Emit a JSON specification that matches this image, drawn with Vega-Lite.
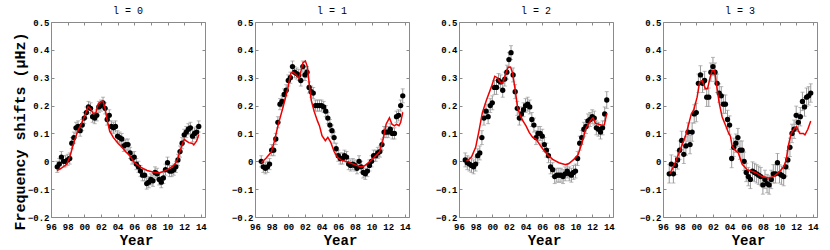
{
"$schema": "https://vega.github.io/schema/vega-lite/v6.json",
"background": "white",
"padding": {"left": 11, "top": 5, "right": 0, "bottom": 0},
"spacing": 23,
"datasets": {
"p0": [{"t":1996.75,"v":-0.02,"e":0.02},{"t":1997,"v":-0.01,"e":0.02},{"t":1997.25,"v":0.015,"e":0.02},{"t":1997.5,"v":0.0,"e":0.02},{"t":1997.75,"v":0.0,"e":0.02},{"t":1998,"v":0.005,"e":0.02},{"t":1998.25,"v":0.01,"e":0.02},{"t":1998.5,"v":0.065,"e":0.02},{"t":1998.75,"v":0.085,"e":0.02},{"t":1999,"v":0.12,"e":0.02},{"t":1999.25,"v":0.125,"e":0.02},{"t":1999.5,"v":0.11,"e":0.02},{"t":1999.75,"v":0.13,"e":0.02},{"t":2000,"v":0.155,"e":0.02},{"t":2000.25,"v":0.175,"e":0.02},{"t":2000.5,"v":0.195,"e":0.02},{"t":2000.75,"v":0.19,"e":0.02},{"t":2001,"v":0.16,"e":0.02},{"t":2001.25,"v":0.155,"e":0.02},{"t":2001.5,"v":0.165,"e":0.02},{"t":2001.75,"v":0.195,"e":0.02},{"t":2002,"v":0.2,"e":0.02},{"t":2002.25,"v":0.21,"e":0.02},{"t":2002.5,"v":0.19,"e":0.02},{"t":2002.75,"v":0.15,"e":0.02},{"t":2003,"v":0.165,"e":0.02},{"t":2003.25,"v":0.125,"e":0.02},{"t":2003.5,"v":0.12,"e":0.02},{"t":2003.75,"v":0.125,"e":0.02},{"t":2004,"v":0.09,"e":0.02},{"t":2004.25,"v":0.085,"e":0.02},{"t":2004.5,"v":0.08,"e":0.02},{"t":2004.75,"v":0.055,"e":0.02},{"t":2005,"v":0.06,"e":0.02},{"t":2005.25,"v":0.06,"e":0.02},{"t":2005.5,"v":0.03,"e":0.02},{"t":2005.75,"v":0.01,"e":0.02},{"t":2006,"v":0.015,"e":0.02},{"t":2006.25,"v":-0.01,"e":0.02},{"t":2006.5,"v":-0.02,"e":0.02},{"t":2006.75,"v":-0.035,"e":0.02},{"t":2007,"v":-0.05,"e":0.02},{"t":2007.25,"v":-0.05,"e":0.02},{"t":2007.5,"v":-0.08,"e":0.02},{"t":2007.75,"v":-0.075,"e":0.02},{"t":2008,"v":-0.065,"e":0.02},{"t":2008.25,"v":-0.07,"e":0.02},{"t":2008.5,"v":-0.04,"e":0.02},{"t":2008.75,"v":-0.045,"e":0.02},{"t":2009,"v":-0.065,"e":0.02},{"t":2009.25,"v":-0.075,"e":0.02},{"t":2009.5,"v":-0.06,"e":0.02},{"t":2009.75,"v":-0.03,"e":0.02},{"t":2010,"v":-0.005,"e":0.02},{"t":2010.25,"v":-0.035,"e":0.02},{"t":2010.5,"v":-0.035,"e":0.02},{"t":2010.75,"v":-0.03,"e":0.02},{"t":2011,"v":-0.02,"e":0.02},{"t":2011.25,"v":0.005,"e":0.02},{"t":2011.5,"v":0.035,"e":0.02},{"t":2011.75,"v":0.065,"e":0.02},{"t":2012,"v":0.095,"e":0.02},{"t":2012.25,"v":0.105,"e":0.02},{"t":2012.5,"v":0.115,"e":0.02},{"t":2012.75,"v":0.12,"e":0.02},{"t":2013,"v":0.09,"e":0.02},{"t":2013.25,"v":0.1,"e":0.02},{"t":2013.5,"v":0.105,"e":0.02},{"t":2013.75,"v":0.125,"e":0.02}],
"p1": [{"t":1996.75,"v":0.0,"e":0.02},{"t":1997,"v":-0.02,"e":0.02},{"t":1997.25,"v":-0.025,"e":0.02},{"t":1997.5,"v":-0.02,"e":0.02},{"t":1997.75,"v":-0.01,"e":0.02},{"t":1998,"v":0.04,"e":0.02},{"t":1998.25,"v":0.04,"e":0.02},{"t":1998.5,"v":0.08,"e":0.02},{"t":1998.75,"v":0.14,"e":0.02},{"t":1999,"v":0.205,"e":0.02},{"t":1999.25,"v":0.215,"e":0.02},{"t":1999.5,"v":0.24,"e":0.02},{"t":1999.75,"v":0.255,"e":0.02},{"t":2000,"v":0.29,"e":0.02},{"t":2000.25,"v":0.3,"e":0.02},{"t":2000.5,"v":0.34,"e":0.02},{"t":2000.75,"v":0.32,"e":0.02},{"t":2001,"v":0.315,"e":0.02},{"t":2001.25,"v":0.31,"e":0.02},{"t":2001.5,"v":0.29,"e":0.02},{"t":2001.75,"v":0.34,"e":0.02},{"t":2002,"v":0.31,"e":0.02},{"t":2002.25,"v":0.32,"e":0.02},{"t":2002.5,"v":0.265,"e":0.02},{"t":2002.75,"v":0.25,"e":0.02},{"t":2003,"v":0.245,"e":0.02},{"t":2003.25,"v":0.2,"e":0.02},{"t":2003.5,"v":0.2,"e":0.02},{"t":2003.75,"v":0.2,"e":0.02},{"t":2004,"v":0.2,"e":0.02},{"t":2004.25,"v":0.195,"e":0.02},{"t":2004.5,"v":0.18,"e":0.02},{"t":2004.75,"v":0.155,"e":0.02},{"t":2005,"v":0.13,"e":0.02},{"t":2005.25,"v":0.11,"e":0.02},{"t":2005.5,"v":0.085,"e":0.02},{"t":2005.75,"v":0.045,"e":0.02},{"t":2006,"v":0.02,"e":0.02},{"t":2006.25,"v":0.01,"e":0.02},{"t":2006.5,"v":0.01,"e":0.02},{"t":2006.75,"v":0.02,"e":0.02},{"t":2007,"v":0.015,"e":0.02},{"t":2007.25,"v":-0.01,"e":0.02},{"t":2007.5,"v":-0.015,"e":0.02},{"t":2007.75,"v":-0.01,"e":0.02},{"t":2008,"v":-0.015,"e":0.02},{"t":2008.25,"v":-0.025,"e":0.02},{"t":2008.5,"v":0.0,"e":0.02},{"t":2008.75,"v":-0.02,"e":0.02},{"t":2009,"v":-0.04,"e":0.02},{"t":2009.25,"v":-0.045,"e":0.02},{"t":2009.5,"v":-0.035,"e":0.02},{"t":2009.75,"v":-0.015,"e":0.02},{"t":2010,"v":0.0,"e":0.02},{"t":2010.25,"v":0.02,"e":0.02},{"t":2010.5,"v":0.02,"e":0.02},{"t":2010.75,"v":0.03,"e":0.02},{"t":2011,"v":0.035,"e":0.02},{"t":2011.25,"v":0.06,"e":0.02},{"t":2011.5,"v":0.105,"e":0.02},{"t":2011.75,"v":0.105,"e":0.02},{"t":2012,"v":0.105,"e":0.02},{"t":2012.25,"v":0.115,"e":0.02},{"t":2012.5,"v":0.1,"e":0.02},{"t":2012.75,"v":0.1,"e":0.02},{"t":2013,"v":0.16,"e":0.02},{"t":2013.25,"v":0.165,"e":0.02},{"t":2013.5,"v":0.2,"e":0.02},{"t":2013.75,"v":0.235,"e":0.025}],
"p2": [{"t":1996.75,"v":0.005,"e":0.025},{"t":1997,"v":-0.005,"e":0.025},{"t":1997.25,"v":-0.01,"e":0.025},{"t":1997.5,"v":-0.015,"e":0.025},{"t":1997.75,"v":-0.02,"e":0.025},{"t":1998,"v":-0.01,"e":0.025},{"t":1998.25,"v":0.02,"e":0.025},{"t":1998.5,"v":0.03,"e":0.025},{"t":1998.75,"v":0.085,"e":0.025},{"t":1999,"v":0.155,"e":0.025},{"t":1999.25,"v":0.18,"e":0.025},{"t":1999.5,"v":0.16,"e":0.025},{"t":1999.75,"v":0.2,"e":0.025},{"t":2000,"v":0.21,"e":0.025},{"t":2000.25,"v":0.265,"e":0.025},{"t":2000.5,"v":0.265,"e":0.025},{"t":2000.75,"v":0.29,"e":0.025},{"t":2001,"v":0.285,"e":0.025},{"t":2001.25,"v":0.255,"e":0.025},{"t":2001.5,"v":0.295,"e":0.025},{"t":2001.75,"v":0.32,"e":0.025},{"t":2002,"v":0.365,"e":0.025},{"t":2002.25,"v":0.39,"e":0.025},{"t":2002.5,"v":0.31,"e":0.025},{"t":2002.75,"v":0.25,"e":0.025},{"t":2003,"v":0.19,"e":0.025},{"t":2003.25,"v":0.155,"e":0.025},{"t":2003.5,"v":0.17,"e":0.025},{"t":2003.75,"v":0.185,"e":0.025},{"t":2004,"v":0.2,"e":0.025},{"t":2004.25,"v":0.205,"e":0.025},{"t":2004.5,"v":0.195,"e":0.025},{"t":2004.75,"v":0.15,"e":0.025},{"t":2005,"v":0.13,"e":0.025},{"t":2005.25,"v":0.085,"e":0.025},{"t":2005.5,"v":0.1,"e":0.025},{"t":2005.75,"v":0.1,"e":0.025},{"t":2006,"v":0.09,"e":0.025},{"t":2006.25,"v":0.06,"e":0.025},{"t":2006.5,"v":0.04,"e":0.025},{"t":2006.75,"v":0.02,"e":0.025},{"t":2007,"v":-0.02,"e":0.025},{"t":2007.25,"v":-0.03,"e":0.025},{"t":2007.5,"v":-0.055,"e":0.025},{"t":2007.75,"v":-0.05,"e":0.025},{"t":2008,"v":-0.05,"e":0.025},{"t":2008.25,"v":-0.05,"e":0.025},{"t":2008.5,"v":-0.055,"e":0.025},{"t":2008.75,"v":-0.045,"e":0.025},{"t":2009,"v":-0.035,"e":0.025},{"t":2009.25,"v":-0.045,"e":0.025},{"t":2009.5,"v":-0.05,"e":0.025},{"t":2009.75,"v":-0.04,"e":0.025},{"t":2010,"v":-0.035,"e":0.025},{"t":2010.25,"v":0.01,"e":0.025},{"t":2010.5,"v":0.065,"e":0.025},{"t":2010.75,"v":0.085,"e":0.025},{"t":2011,"v":0.115,"e":0.025},{"t":2011.25,"v":0.125,"e":0.025},{"t":2011.5,"v":0.145,"e":0.025},{"t":2011.75,"v":0.15,"e":0.025},{"t":2012,"v":0.16,"e":0.025},{"t":2012.25,"v":0.155,"e":0.025},{"t":2012.5,"v":0.12,"e":0.025},{"t":2012.75,"v":0.115,"e":0.025},{"t":2013,"v":0.105,"e":0.025},{"t":2013.25,"v":0.12,"e":0.025},{"t":2013.5,"v":0.17,"e":0.025},{"t":2013.75,"v":0.22,"e":0.03}],
"p3": [{"t":1996.75,"v":-0.045,"e":0.033},{"t":1997,"v":-0.01,"e":0.033},{"t":1997.25,"v":-0.045,"e":0.033},{"t":1997.5,"v":-0.015,"e":0.033},{"t":1997.75,"v":0.005,"e":0.033},{"t":1998,"v":0.04,"e":0.033},{"t":1998.25,"v":0.075,"e":0.033},{"t":1998.5,"v":0.025,"e":0.033},{"t":1998.75,"v":0.055,"e":0.033},{"t":1999,"v":0.105,"e":0.033},{"t":1999.25,"v":0.06,"e":0.033},{"t":1999.5,"v":0.105,"e":0.033},{"t":1999.75,"v":0.17,"e":0.033},{"t":2000,"v":0.175,"e":0.033},{"t":2000.25,"v":0.28,"e":0.033},{"t":2000.5,"v":0.31,"e":0.033},{"t":2000.75,"v":0.28,"e":0.033},{"t":2001,"v":0.29,"e":0.033},{"t":2001.25,"v":0.23,"e":0.033},{"t":2001.5,"v":0.23,"e":0.033},{"t":2001.75,"v":0.32,"e":0.033},{"t":2002,"v":0.34,"e":0.033},{"t":2002.25,"v":0.32,"e":0.033},{"t":2002.5,"v":0.28,"e":0.033},{"t":2002.75,"v":0.245,"e":0.033},{"t":2003,"v":0.235,"e":0.033},{"t":2003.25,"v":0.205,"e":0.033},{"t":2003.5,"v":0.205,"e":0.033},{"t":2003.75,"v":0.15,"e":0.033},{"t":2004,"v":0.13,"e":0.033},{"t":2004.25,"v":0.01,"e":0.033},{"t":2004.5,"v":0.05,"e":0.033},{"t":2004.75,"v":0.065,"e":0.033},{"t":2005,"v":0.085,"e":0.033},{"t":2005.25,"v":0.04,"e":0.033},{"t":2005.5,"v":0.04,"e":0.033},{"t":2005.75,"v":0.0,"e":0.033},{"t":2006,"v":-0.04,"e":0.033},{"t":2006.25,"v":-0.055,"e":0.033},{"t":2006.5,"v":-0.065,"e":0.033},{"t":2006.75,"v":-0.035,"e":0.033},{"t":2007,"v":-0.04,"e":0.033},{"t":2007.25,"v":-0.045,"e":0.033},{"t":2007.5,"v":-0.05,"e":0.033},{"t":2007.75,"v":-0.055,"e":0.033},{"t":2008,"v":-0.085,"e":0.033},{"t":2008.25,"v":-0.065,"e":0.033},{"t":2008.5,"v":-0.08,"e":0.033},{"t":2008.75,"v":-0.085,"e":0.033},{"t":2009,"v":-0.065,"e":0.033},{"t":2009.25,"v":-0.045,"e":0.033},{"t":2009.5,"v":-0.045,"e":0.033},{"t":2009.75,"v":-0.005,"e":0.033},{"t":2010,"v":-0.045,"e":0.033},{"t":2010.25,"v":-0.05,"e":0.033},{"t":2010.5,"v":-0.055,"e":0.033},{"t":2010.75,"v":-0.02,"e":0.033},{"t":2011,"v":0.005,"e":0.033},{"t":2011.25,"v":0.05,"e":0.033},{"t":2011.5,"v":0.1,"e":0.033},{"t":2011.75,"v":0.115,"e":0.033},{"t":2012,"v":0.165,"e":0.033},{"t":2012.25,"v":0.14,"e":0.033},{"t":2012.5,"v":0.16,"e":0.033},{"t":2012.75,"v":0.215,"e":0.033},{"t":2013,"v":0.195,"e":0.033},{"t":2013.25,"v":0.23,"e":0.033},{"t":2013.5,"v":0.235,"e":0.033},{"t":2013.75,"v":0.245,"e":0.033}],
"m0": [{"t":1996.72,"v":-0.033},{"t":1997.3,"v":-0.024},{"t":1997.9,"v":-0.01},{"t":1998.3,"v":0.02},{"t":1998.7,"v":0.063},{"t":1999.2,"v":0.108},{"t":1999.7,"v":0.138},{"t":2000.1,"v":0.167},{"t":2000.45,"v":0.196},{"t":2000.75,"v":0.188},{"t":2001.1,"v":0.17},{"t":2001.4,"v":0.175},{"t":2001.7,"v":0.208},{"t":2002.0,"v":0.214},{"t":2002.25,"v":0.216},{"t":2002.5,"v":0.19},{"t":2002.7,"v":0.155},{"t":2003.05,"v":0.108},{"t":2003.5,"v":0.085},{"t":2004.1,"v":0.063},{"t":2004.65,"v":0.047},{"t":2005.05,"v":0.032},{"t":2005.3,"v":0.026},{"t":2005.6,"v":0.014},{"t":2006.0,"v":-0.004},{"t":2006.75,"v":-0.021},{"t":2007.55,"v":-0.033},{"t":2008.35,"v":-0.039},{"t":2008.95,"v":-0.042},{"t":2009.55,"v":-0.036},{"t":2010.15,"v":-0.027},{"t":2010.75,"v":-0.015},{"t":2011.15,"v":0.002},{"t":2011.45,"v":0.032},{"t":2011.75,"v":0.059},{"t":2012.0,"v":0.079},{"t":2012.25,"v":0.073},{"t":2012.55,"v":0.067},{"t":2013.0,"v":0.064},{"t":2013.15,"v":0.059},{"t":2013.5,"v":0.073},{"t":2013.75,"v":0.096}],
"m1": [{"t":1996.76,"v":-0.005},{"t":1997.35,"v":0.012},{"t":1997.95,"v":0.033},{"t":1998.35,"v":0.074},{"t":1998.75,"v":0.127},{"t":1999.35,"v":0.192},{"t":1999.9,"v":0.256},{"t":2000.3,"v":0.315},{"t":2000.55,"v":0.321},{"t":2000.95,"v":0.31},{"t":2001.3,"v":0.298},{"t":2001.55,"v":0.327},{"t":2001.75,"v":0.353},{"t":2002.05,"v":0.36},{"t":2002.3,"v":0.339},{"t":2002.55,"v":0.268},{"t":2002.75,"v":0.22},{"t":2003.1,"v":0.18},{"t":2003.5,"v":0.145},{"t":2003.75,"v":0.127},{"t":2004.05,"v":0.092},{"t":2004.45,"v":0.074},{"t":2004.75,"v":0.086},{"t":2005.1,"v":0.068},{"t":2005.5,"v":0.035},{"t":2005.9,"v":0.015},{"t":2006.35,"v":0.004},{"t":2007.15,"v":-0.002},{"t":2007.95,"v":-0.012},{"t":2008.75,"v":-0.02},{"t":2009.15,"v":-0.016},{"t":2009.75,"v":-0.002},{"t":2010.35,"v":0.015},{"t":2010.95,"v":0.033},{"t":2011.35,"v":0.074},{"t":2011.75,"v":0.133},{"t":2012.15,"v":0.156},{"t":2012.45,"v":0.133},{"t":2012.75,"v":0.127},{"t":2013.0,"v":0.133},{"t":2013.3,"v":0.128},{"t":2013.5,"v":0.14},{"t":2013.75,"v":0.176}],
"m2": [{"t":1996.9,"v":0.0},{"t":1997.5,"v":0.015},{"t":1998.0,"v":0.05},{"t":1998.4,"v":0.109},{"t":1998.8,"v":0.174},{"t":1999.3,"v":0.22},{"t":1999.9,"v":0.268},{"t":2000.3,"v":0.305},{"t":2000.6,"v":0.3},{"t":2001.0,"v":0.282},{"t":2001.25,"v":0.28},{"t":2001.55,"v":0.309},{"t":2001.9,"v":0.338},{"t":2002.2,"v":0.338},{"t":2002.45,"v":0.315},{"t":2002.75,"v":0.256},{"t":2003.05,"v":0.19},{"t":2003.4,"v":0.162},{"t":2003.7,"v":0.144},{"t":2004.05,"v":0.127},{"t":2004.45,"v":0.103},{"t":2004.85,"v":0.086},{"t":2005.25,"v":0.08},{"t":2005.65,"v":0.062},{"t":2006.05,"v":0.045},{"t":2006.65,"v":0.023},{"t":2007.25,"v":0.007},{"t":2008.0,"v":-0.005},{"t":2008.8,"v":-0.012},{"t":2009.2,"v":-0.008},{"t":2009.8,"v":0.007},{"t":2010.3,"v":0.023},{"t":2010.8,"v":0.068},{"t":2011.2,"v":0.115},{"t":2011.6,"v":0.136},{"t":2011.9,"v":0.15},{"t":2012.1,"v":0.156},{"t":2012.4,"v":0.136},{"t":2012.8,"v":0.133},{"t":2013.2,"v":0.129},{"t":2013.45,"v":0.13},{"t":2013.75,"v":0.172}],
"m3": [{"t":1996.83,"v":-0.045},{"t":1997.4,"v":-0.01},{"t":1998.0,"v":0.035},{"t":1998.8,"v":0.1},{"t":1999.4,"v":0.17},{"t":1999.7,"v":0.185},{"t":2000.1,"v":0.23},{"t":2000.4,"v":0.285},{"t":2000.7,"v":0.29},{"t":2001.1,"v":0.26},{"t":2001.35,"v":0.26},{"t":2001.65,"v":0.3},{"t":2001.9,"v":0.325},{"t":2002.2,"v":0.325},{"t":2002.45,"v":0.27},{"t":2002.75,"v":0.21},{"t":2003.1,"v":0.16},{"t":2003.5,"v":0.13},{"t":2003.9,"v":0.1},{"t":2004.1,"v":0.09},{"t":2004.3,"v":0.055},{"t":2004.65,"v":0.04},{"t":2005.05,"v":0.03},{"t":2005.5,"v":-0.01},{"t":2006.1,"v":-0.03},{"t":2007.1,"v":-0.04},{"t":2007.9,"v":-0.055},{"t":2008.7,"v":-0.06},{"t":2009.3,"v":-0.055},{"t":2009.9,"v":-0.04},{"t":2010.5,"v":-0.02},{"t":2010.8,"v":0.005},{"t":2011.05,"v":0.055},{"t":2011.4,"v":0.1},{"t":2011.85,"v":0.12},{"t":2012.05,"v":0.125},{"t":2012.25,"v":0.11},{"t":2012.45,"v":0.1},{"t":2012.85,"v":0.1},{"t":2013.05,"v":0.095},{"t":2013.4,"v":0.115},{"t":2013.75,"v":0.145}]
},
"hconcat": [
{"width":154,"height":195,"title":"l = 0","resolve":{"axis":{"x":"independent","y":"independent"}},"layer":[
{"data":{"name":"p0"},"mark":{"type":"errorbar","color":"#9a9a9a","ticks":{"size":4}},"encoding":{"x":{"field":"t","type":"quantitative","scale":{"domain":[1996,2014.5],"nice":false,"zero":false},"axis":{"values":[1996,1998,2000,2002,2004,2006,2008,2010,2012,2014],"labelExpr":"substring(toString(datum.value),2,4)","title":"Year","titleX":85}},"y":{"field":"v","type":"quantitative","scale":{"domain":[-0.2,0.5],"nice":false,"zero":false},"axis":{"values":[-0.2,-0.1,0,0.1,0.2,0.3,0.4,0.5],"labelExpr":"datum.value == 0 ? '0' : format(datum.value, '.1f')","title":"Frequency shifts (μHz)","titleY":109}},"yError":{"field":"e"}}},
{"data":{"name":"p0"},"mark":{"type":"point","filled":true,"color":"black","opacity":1,"size":28},"encoding":{"x":{"field":"t","type":"quantitative","axis":null},"y":{"field":"v","type":"quantitative","axis":null}}},
{"data":{"name":"m0"},"mark":{"type":"line","color":"#ee0000","strokeWidth":1.5},"encoding":{"x":{"field":"t","type":"quantitative","axis":{"orient":"top","values":[1996,1998,2000,2002,2004,2006,2008,2010,2012,2014],"labels":false,"title":null}},"y":{"field":"v","type":"quantitative","axis":{"orient":"right","values":[-0.2,-0.1,0,0.1,0.2,0.3,0.4,0.5],"labels":false,"title":null}}}}
]},
{"width":154,"height":195,"title":"l = 1","resolve":{"axis":{"x":"independent","y":"independent"}},"layer":[
{"data":{"name":"p1"},"mark":{"type":"errorbar","color":"#9a9a9a","ticks":{"size":4}},"encoding":{"x":{"field":"t","type":"quantitative","scale":{"domain":[1996,2014.5],"nice":false,"zero":false},"axis":{"values":[1996,1998,2000,2002,2004,2006,2008,2010,2012,2014],"labelExpr":"substring(toString(datum.value),2,4)","title":"Year","titleX":85}},"y":{"field":"v","type":"quantitative","scale":{"domain":[-0.2,0.5],"nice":false,"zero":false},"axis":{"values":[-0.2,-0.1,0,0.1,0.2,0.3,0.4,0.5],"labelExpr":"datum.value == 0 ? '0' : format(datum.value, '.1f')","title":null}},"yError":{"field":"e"}}},
{"data":{"name":"p1"},"mark":{"type":"point","filled":true,"color":"black","opacity":1,"size":28},"encoding":{"x":{"field":"t","type":"quantitative","axis":null},"y":{"field":"v","type":"quantitative","axis":null}}},
{"data":{"name":"m1"},"mark":{"type":"line","color":"#ee0000","strokeWidth":1.5},"encoding":{"x":{"field":"t","type":"quantitative","axis":{"orient":"top","values":[1996,1998,2000,2002,2004,2006,2008,2010,2012,2014],"labels":false,"title":null}},"y":{"field":"v","type":"quantitative","axis":{"orient":"right","values":[-0.2,-0.1,0,0.1,0.2,0.3,0.4,0.5],"labels":false,"title":null}}}}
]},
{"width":154,"height":195,"title":"l = 2","resolve":{"axis":{"x":"independent","y":"independent"}},"layer":[
{"data":{"name":"p2"},"mark":{"type":"errorbar","color":"#9a9a9a","ticks":{"size":4}},"encoding":{"x":{"field":"t","type":"quantitative","scale":{"domain":[1996,2014.5],"nice":false,"zero":false},"axis":{"values":[1996,1998,2000,2002,2004,2006,2008,2010,2012,2014],"labelExpr":"substring(toString(datum.value),2,4)","title":"Year","titleX":85}},"y":{"field":"v","type":"quantitative","scale":{"domain":[-0.2,0.5],"nice":false,"zero":false},"axis":{"values":[-0.2,-0.1,0,0.1,0.2,0.3,0.4,0.5],"labelExpr":"datum.value == 0 ? '0' : format(datum.value, '.1f')","title":null}},"yError":{"field":"e"}}},
{"data":{"name":"p2"},"mark":{"type":"point","filled":true,"color":"black","opacity":1,"size":28},"encoding":{"x":{"field":"t","type":"quantitative","axis":null},"y":{"field":"v","type":"quantitative","axis":null}}},
{"data":{"name":"m2"},"mark":{"type":"line","color":"#ee0000","strokeWidth":1.5},"encoding":{"x":{"field":"t","type":"quantitative","axis":{"orient":"top","values":[1996,1998,2000,2002,2004,2006,2008,2010,2012,2014],"labels":false,"title":null}},"y":{"field":"v","type":"quantitative","axis":{"orient":"right","values":[-0.2,-0.1,0,0.1,0.2,0.3,0.4,0.5],"labels":false,"title":null}}}}
]},
{"width":154,"height":195,"title":"l = 3","resolve":{"axis":{"x":"independent","y":"independent"}},"layer":[
{"data":{"name":"p3"},"mark":{"type":"errorbar","color":"#9a9a9a","ticks":{"size":4}},"encoding":{"x":{"field":"t","type":"quantitative","scale":{"domain":[1996,2014.5],"nice":false,"zero":false},"axis":{"values":[1996,1998,2000,2002,2004,2006,2008,2010,2012,2014],"labelExpr":"substring(toString(datum.value),2,4)","title":"Year","titleX":85}},"y":{"field":"v","type":"quantitative","scale":{"domain":[-0.2,0.5],"nice":false,"zero":false},"axis":{"values":[-0.2,-0.1,0,0.1,0.2,0.3,0.4,0.5],"labelExpr":"datum.value == 0 ? '0' : format(datum.value, '.1f')","title":null}},"yError":{"field":"e"}}},
{"data":{"name":"p3"},"mark":{"type":"point","filled":true,"color":"black","opacity":1,"size":28},"encoding":{"x":{"field":"t","type":"quantitative","axis":null},"y":{"field":"v","type":"quantitative","axis":null}}},
{"data":{"name":"m3"},"mark":{"type":"line","color":"#ee0000","strokeWidth":1.5},"encoding":{"x":{"field":"t","type":"quantitative","axis":{"orient":"top","values":[1996,1998,2000,2002,2004,2006,2008,2010,2012,2014],"labels":false,"title":null}},"y":{"field":"v","type":"quantitative","axis":{"orient":"right","values":[-0.2,-0.1,0,0.1,0.2,0.3,0.4,0.5],"labels":false,"title":null}}}}
]}
],
"config": {
"view": {"stroke": "#8a8a8a", "strokeWidth": 1},
"axis": {"grid": false, "domain": false, "labelOverlap": false, "labelFlush": false, "labelFont": "Liberation Mono", "labelFontWeight": "bold", "labelFontSize": 9, "labelColor": "#000", "tickColor": "#8a8a8a", "tickSize": -3, "labelPadding": 5, "titleFont": "Liberation Mono", "titleFontWeight": "bold", "titleFontSize": 15, "titleColor": "#000", "titlePadding": 0},
"axisX": {"labelPadding": 8, "titlePadding": 2, "titleFontSize": 14},
"title": {"font": "Liberation Mono", "fontSize": 10, "fontWeight": "normal", "offset": 2, "color": "#000"}
}
}
